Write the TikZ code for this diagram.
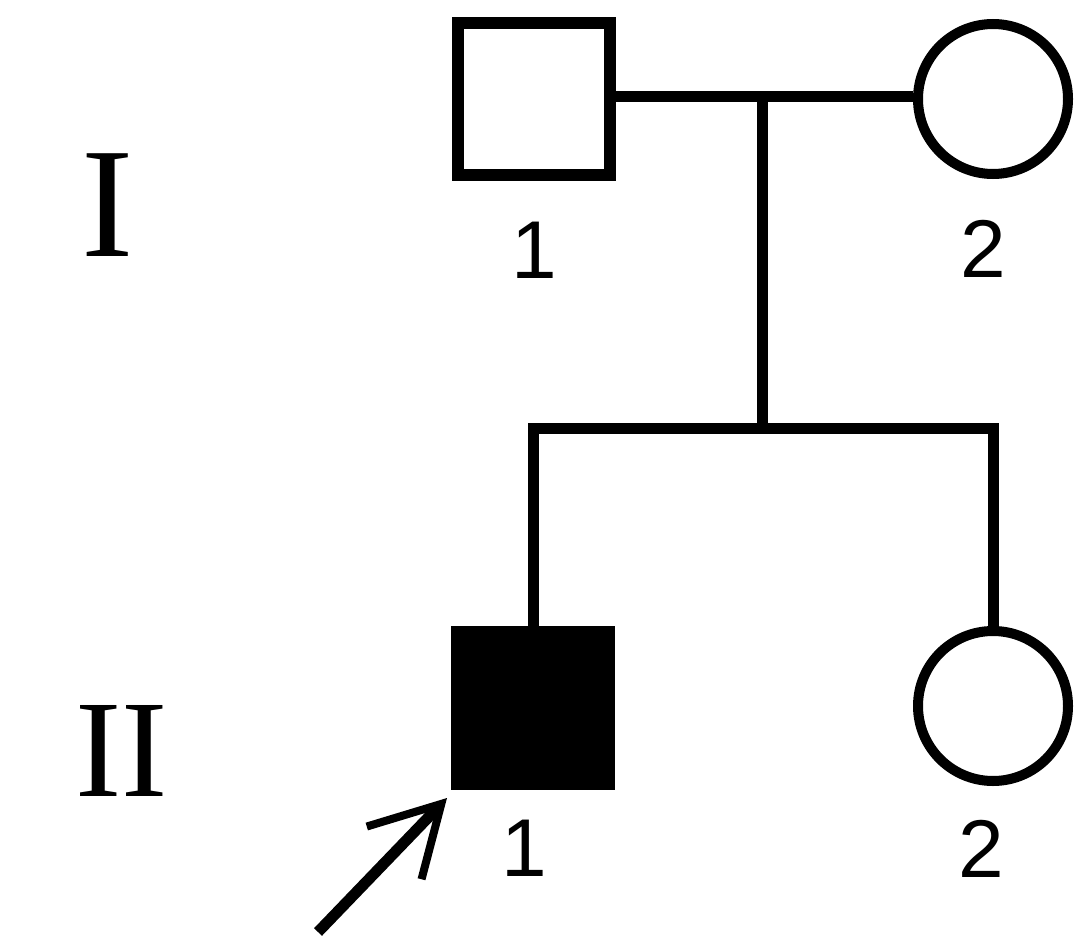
\documentclass[tikz,border=0pt]{standalone}
\usepackage{fontspec}
\setmainfont{Liberation Serif}
\newfontfamily\digitfont{Liberation Sans}
\usetikzlibrary{arrows.meta}
\begin{document}
\begin{tikzpicture}[x=1pt,y=-1pt,
  male/.style={draw=black,line width=12pt,rectangle,minimum size=152pt,inner sep=0pt},
  female/.style={draw=black,line width=10pt,circle,minimum size=150pt,inner sep=0pt},
  affected/.style={fill=black},
  link/.style={draw=black,line width=11pt},
  gen/.style={inner sep=0pt,font=\fontsize{150}{160}\selectfont},
  num/.style={inner sep=0pt,font=\digitfont\fontsize{82}{90}\selectfont}]
\useasboundingbox[fill=white] (0,0) rectangle (1087,952);
% generation I
\node[male] (i1) at (534,99) {};
\node[female] (i2) at (993,99) {};
\node[num] (l11) at (534,250) {1};
\node[num] (l12) at (983,249) {2};
% generation II
\node[male,affected] (ii1) at (533,708) {};
\node[female] (ii2) at (993,706) {};
\node[num] (l21) at (524,848) {1};
\node[num] (l22) at (981,849) {2};
% generation labels
\node[gen,font=\fontsize{157}{160}\selectfont] (g1) at (108,205) {I};
\node[gen,font=\fontsize{139}{150}\selectfont] (g2) at (122,751) {II};
% connectors
\coordinate (m) at (762,97);
\coordinate (s) at (762,428);
\draw[link] (i1.east |- m) -- (i2.west |- m);
\draw[link] (m) -- (s);
\draw[link] (ii1.north) |- (s) -| (ii2.north);
% proband arrow
\coordinate (tail) at (318,932);
\coordinate (tip) at (447,798);
\draw[line width=11pt,-{Straight Barb[length=68pt,width=76pt,line width=8pt]}] (tail) -- (tip);
\end{tikzpicture}
\end{document}
